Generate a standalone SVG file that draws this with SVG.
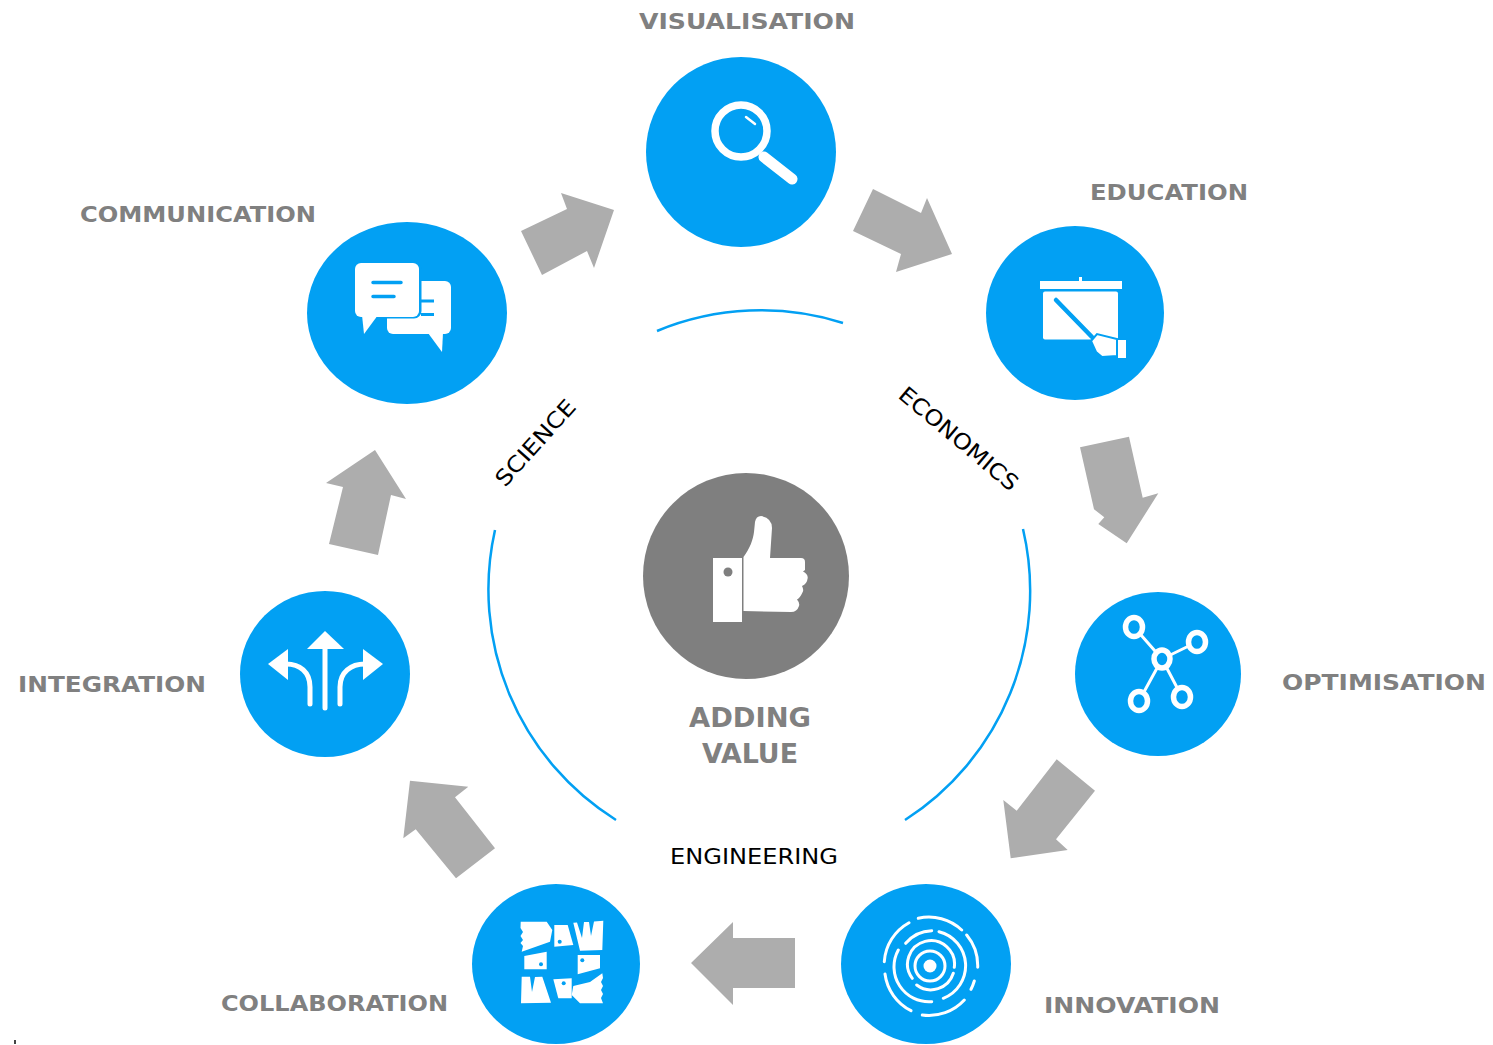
<svg xmlns="http://www.w3.org/2000/svg" width="1493" height="1045" viewBox="0 0 1493 1045">
<style>
.b{fill:#02a0f3}
.w{fill:#fff}
.ws{fill:none;stroke:#fff;stroke-linecap:round;stroke-linejoin:round}
.bs{fill:none;stroke:#02a0f3;stroke-linecap:round}
.l{font-family:"DejaVu Sans",sans-serif;font-weight:700;font-size:22px;fill:#808080}
.k{font-family:"DejaVu Sans",sans-serif;font-size:22px;fill:#000}
.a{fill:#adadad}
.arc{fill:none;stroke:#02a0f3;stroke-width:2.500}
</style>
<rect width="1493" height="1045" fill="#fff"/>
<g id="connectors">
<polygon class="a" points="521,231 567,209 561,193 614,210 594,268 587,251 542,275"/>
<polygon class="a" points="873,189 921,213 927,198 952,254 896,272 901,254 853,231"/>
<polygon class="a" points="1080,447.300 1129,436.700 1142.700,497.700 1158.300,493.300 1126.700,543.300 1098.300,524 1104.300,517.300 1094,509.300"/>
<polygon class="a" points="1056.700,759.300 1095,790.700 1056,839.300 1067.700,850 1010.700,858.300 1003.300,800 1016.700,810.700"/>
<polygon class="a" points="795,938 795,988 733,988 733,1005 691,963 733,922 733,938"/>
<polygon class="a" points="410,780.700 468.300,786.700 455,797.300 495,848.300 456,878.300 415.700,829.300 403.300,838.300"/>
<polygon class="a" points="329,544 378,555 391,495 406,499 375,450 326,483 343,487"/>
</g>
<g id="arcs">
<path class="arc" d="M657 331A272 272 0 0 1 843 323"/>
<path class="arc" d="M495 530A272 272 0 0 0 616 820"/>
<path class="arc" d="M1023 529A272 272 0 0 1 905 820"/>
<text class="k" x="670" y="864" textLength="168" lengthAdjust="spacingAndGlyphs">ENGINEERING</text>
<text class="k" transform="translate(505 488) rotate(-48)" textLength="108" lengthAdjust="spacingAndGlyphs">SCIENCE</text>
<text class="k" transform="translate(897 397) rotate(40)" textLength="148" lengthAdjust="spacingAndGlyphs">ECONOMICS</text>
</g>
<g id="visualisation">
<circle class="b" cx="741" cy="152" r="95"/>
<circle class="ws" cx="741" cy="131" r="26" stroke-width="7.500"/>
<path class="ws" d="M764 157L792 179" stroke-width="11"/>
<path class="ws" d="M746 117L755 124" stroke-width="2.500"/>
<text class="l" x="639" y="29" textLength="216" lengthAdjust="spacingAndGlyphs">VISUALISATION</text>
</g>
<g id="education">
<ellipse class="b" cx="1075" cy="313" rx="89" ry="87"/>
<rect class="w" x="1040" y="281" width="82" height="8"/>
<rect class="w" x="1079" y="277" width="3" height="5"/>
<rect class="w" x="1043" y="291.500" width="75" height="48" rx="2"/>
<path class="bs" d="M1056 300L1092 337" stroke-width="4.500"/>
<polygon class="w" stroke="#02a0f3" stroke-width="2" points="1091,341 1097,334 1117,339 1117,356 1102,357 1096,352"/>
<rect class="w" x="1118" y="340" width="8" height="18"/>
<text class="l" x="1090" y="200" textLength="158" lengthAdjust="spacingAndGlyphs">EDUCATION</text>
</g>
<g id="optimisation">
<ellipse class="b" cx="1158" cy="674" rx="83" ry="82"/>
<path class="ws" d="M1134 627L1162 659L1197 642M1162 659L1139 701M1162 659L1182 697" stroke-width="3"/>
<ellipse cx="1162" cy="659" rx="8" ry="9" fill="#02a0f3" stroke="#fff" stroke-width="5.500"/>
<ellipse cx="1134" cy="627" rx="8.500" ry="9.500" fill="#02a0f3" stroke="#fff" stroke-width="5.500"/>
<ellipse cx="1197" cy="642" rx="8.500" ry="9.500" fill="#02a0f3" stroke="#fff" stroke-width="5.500"/>
<ellipse cx="1139" cy="701" rx="8.500" ry="9.500" fill="#02a0f3" stroke="#fff" stroke-width="5.500"/>
<ellipse cx="1182" cy="697" rx="8.500" ry="9.500" fill="#02a0f3" stroke="#fff" stroke-width="5.500"/>
<text class="l" x="1282" y="690" textLength="204" lengthAdjust="spacingAndGlyphs">OPTIMISATION</text>
</g>
<g id="innovation">
<ellipse class="b" cx="926" cy="964" rx="85" ry="80"/>
<circle class="w" cx="930" cy="966" r="6.500"/>
<circle class="ws" cx="930" cy="966" r="15" stroke-width="3"/>
<path class="ws" stroke-width="3" d="M918.300 918.300A48 48 0 0 1 961.700 930M966.700 935A48 48 0 0 1 977.700 967.300M974.300 981A48 48 0 0 1 971 989.300M964.300 1000A48 48 0 0 1 922.300 1015M911 1010.700A48 48 0 0 1 885 974M884.300 961.700A48 48 0 0 1 909 922.700M905.700 943.300A35 35 0 0 1 931.700 930.700M939 931.700A35 35 0 0 1 943.300 998.300M931.700 1001.700A35 35 0 0 1 898.300 950M912.300 978.300A23.500 23.500 0 1 1 954.300 967.300M953.300 973.300A23.500 23.500 0 0 1 916.700 985"/>
<text class="l" x="1044" y="1013" textLength="176" lengthAdjust="spacingAndGlyphs">INNOVATION</text>
</g>
<g id="collaboration">
<ellipse class="b" cx="556" cy="964" rx="84" ry="80"/>
<polygon class="w" points="520.700,921.700 546.700,921.700 552.300,930 550,941.700 521.700,951.700 523,946 520.500,943 523,940 520.500,936 523,932 520.500,928"/>
<polygon class="w" points="554.300,925 567.700,925 573.300,945 554.300,946.700"/>
<polygon class="w" points="573.300,922.700 577,922.500 582,938 584,922 589,922 591,936 594,921.500 603.300,920.700 602.300,950 580,950.700"/>
<polygon class="w" points="577.700,955 600,955 600,968.300 577.700,974.300"/>
<polygon class="w" points="602.300,973.300 603,978 601,982 603,986 601,990 603,994 601,998 603,1003.300 580,1003.300 571.700,995 573.300,986 590,982"/>
<polygon class="w" points="553.300,979.300 571.700,978.300 571.700,998.300 558.300,998.300"/>
<polygon class="w" points="521.700,976.700 530,976.700 532,992 535,977 542.300,976.700 551,1002.700 521,1003.300"/>
<polygon class="w" points="524.300,956 546.700,951.700 546.700,969.300 524.300,969.300"/>
<circle class="b" cx="559.700" cy="941.700" r="2"/>
<circle class="b" cx="582.300" cy="960.300" r="2"/>
<circle class="b" cx="563.700" cy="983.300" r="2"/>
<circle class="b" cx="541" cy="964.300" r="2"/>
<text class="l" x="221" y="1011" textLength="227" lengthAdjust="spacingAndGlyphs">COLLABORATION</text>
</g>
<g id="integration">
<ellipse class="b" cx="325" cy="674" rx="85" ry="83"/>
<polygon class="w" points="325,631 344,649 307,649"/>
<polygon class="w" points="268,664 288,649 288,680"/>
<polygon class="w" points="383,664 363,649 363,680"/>
<path class="ws" d="M325 649V708M286 664C300 664 310 672 310 687V704M365 664C351 664 340 672 340 687V704" stroke-width="5"/>
<text class="l" x="18" y="692" textLength="188" lengthAdjust="spacingAndGlyphs">INTEGRATION</text>
</g>
<g id="communication">
<ellipse class="b" cx="407" cy="313" rx="100" ry="91"/>
<rect class="w" x="387" y="281" width="64" height="53" rx="6"/>
<polygon class="w" points="428,333 442,352 443,333"/>
<rect class="b" x="421" y="299.500" width="13" height="3"/>
<rect class="b" x="421" y="313" width="13" height="3"/>
<rect class="w" x="355" y="263" width="65" height="54" rx="6" stroke="#02a0f3" stroke-width="3"/>
<rect class="w" x="355" y="263" width="64" height="54" rx="6"/>
<polygon class="w" points="362,315 364,334 378,315"/>
<path class="bs" d="M373 282.500H401M373 296.500H394" stroke-width="3.500"/>
<text class="l" x="80" y="222" textLength="236" lengthAdjust="spacingAndGlyphs">COMMUNICATION</text>
</g>
<g id="adding-value">
<circle cx="746" cy="576" r="103" fill="#7f7f7f"/>
<rect class="w" x="713" y="558" width="29" height="64"/>
<circle cx="728" cy="572" r="4.500" fill="#7f7f7f"/>
<path class="w" d="M743.500 557C750 548 753 540 754 532L755 522Q756 516 761 516Q772 518 772 528L770 558H801Q805 558 805 562V570L803 571.500Q808 574 807.700 578Q807 584 802 586Q804 590 802.700 592Q800 598 797 599.500Q800 603 799 606Q797 612 791 612L743.500 611Z"/>
<text class="l" x="689" y="727" textLength="122" lengthAdjust="spacingAndGlyphs" style="font-size:26px">ADDING</text>
<text class="l" x="702" y="763" textLength="96" lengthAdjust="spacingAndGlyphs" style="font-size:26px">VALUE</text>
</g>
<rect id="tick" x="14" y="1040" width="2" height="4" fill="#444"/>
</svg>
